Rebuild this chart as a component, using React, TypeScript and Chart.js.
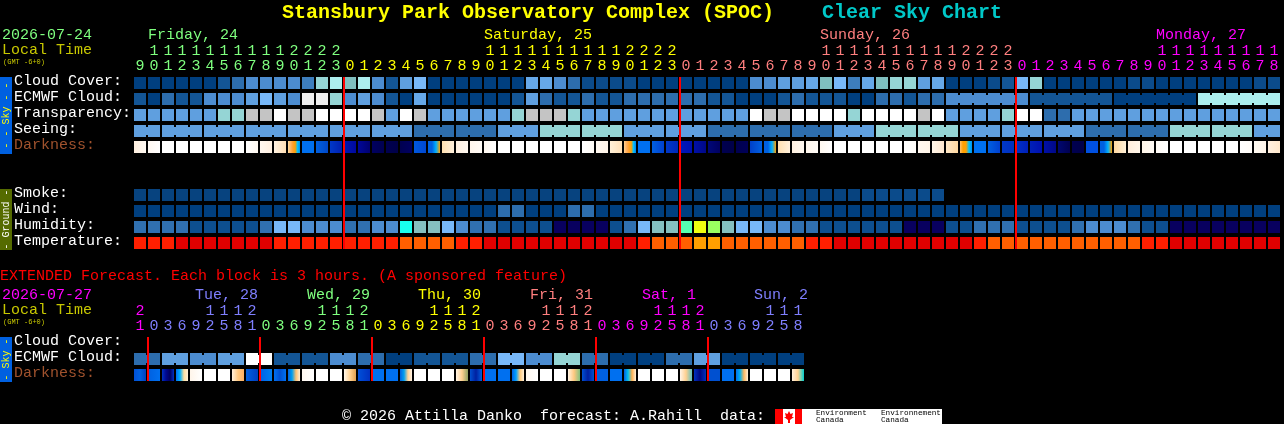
import React, { useEffect, useRef } from "react";
import { Chart, registerables } from "chart.js";

Chart.register(...registerables);

const MONO = '"Liberation Mono", "DejaVu Sans Mono", monospace';

const cloudPalette = ["#003F7F", "#135595", "#2D6DAD", "#4C8CD0", "#5F9FDF", "#78B8F8", "#7FBFBF", "#95D5D5", "#ACEEEE", "#C4C4C4", "#EEEEEE", "#FFFFFF", "#3D7DBD", "#0B4B8B", "#66A8E8", "#07437F"];
const humidityPalette = ["#08005F", "#0D4F8F", "#3070B0", "#4C8CD0", "#78B8F8", "#85BFBF", "#18FFEE", "#55FFB0", "#9AFF60", "#EFFF10"];
const temperaturePalette = ["#E00000", "#FF1F00", "#FF5F00", "#FF9F00"];

const hoursMain = [9, 10, 11, 12, 13, 14, 15, 16, 17, 18, 19, 20, 21, 22, 23, 0, 1, 2, 3, 4, 5, 6, 7, 8, 9, 10, 11, 12, 13, 14, 15, 16, 17, 18, 19, 20, 21, 22, 23, 0, 1, 2, 3, 4, 5, 6, 7, 8, 9, 10, 11, 12, 13, 14, 15, 16, 17, 18, 19, 20, 21, 22, 23, 0, 1, 2, 3, 4, 5, 6, 7, 8, 9, 10, 11, 12, 13, 14, 15, 16, 17, 18];
const hoursExtended = [21, 0, 3, 6, 9, 12, 15, 18, 21, 0, 3, 6, 9, 12, 15, 18, 21, 0, 3, 6, 9, 12, 15, 18, 21, 0, 3, 6, 9, 12, 15, 18, 21, 0, 3, 6, 9, 12, 15, 18, 21, 0, 3, 6, 9, 12, 15, 18];
const midnightsMain = [15, 39, 63];
const midnightsExtended = [1, 9, 17, 25, 33, 41];

const cloudCover = [0,0,0,0,0,0,1,2,3,3, 3,3,12,7,8,6,8,3,1,4, 5,0,0,0,0,0,0,0,14,14, 3,2,13,13,13,13,0,0,0,0, 0,0,0,0,3,3,4,4,14,6, 5,12,14,6,7,7,4,14,0,0, 0,13,1,5,7,0,0,0,0,0, 0,13,13,0,0,0,0,0,0,0, 13,13];
const ecmwfCloud = [1,0,2,1,1,3,3,3,4,5, 4,3,10,10,7,3,4,3,1,0, 14,0,0,0,0,0,0,1,4,2, 1,1,2,1,1,2,2,2,2,2, 2,1,1,0,0,0,1,2,1,1, 1,0,0,2,2,1,2,2,3,3, 3,3,3,3,1,1,1,1,1,1, 0,0,0,0,0,0,8,8,8,8, 8,8];
const transparency = [4,4,4,4,4,4,7,7,9,9, 11,9,9,11,11,11,11,9,4,11, 9,4,4,4,4,4,4,7,9,9, 9,7,4,4,4,4,4,4,4,4, 4,4,4,4,11,9,9,11,11,11, 11,7,11,11,11,11,9,11,4,4, 4,4,7,11,11,2,2,4,4,4, 4,4,4,4,4,4,4,4,4,4, 4,4];
const seeing = [4,4,4,4,4,4,4,4,4,4, 4,4,4,4,4,4,4,4,4,4, 2,2,2,2,2,2,4,4,4,7, 7,7,7,7,7,4,4,4,4,4, 4,2,2,2,2,2,2,2,2,2, 4,4,4,7,7,7,7,7,7,4, 4,4,4,4,4,4,4,4,2,2, 2,2,2,2,7,7,7,7,7,7, 4,4];
const smoke = [15,15,15,15,15,15,15,15,15,15, 15,15,15,15,15,15,15,15,15,15, 15,15,15,15,15,15,15,15,15,15, 15,15,15,15,15,15,15,15,15,15, 15,15,15,15,15,15,15,15,15,15, 15,15,13,13,13,13,13,13];
const wind = [0,0,0,0,0,0,0,0,0,0, 0,0,0,0,0,0,0,0,0,0, 0,0,0,0,0,0,2,2,0,0, 0,2,2,0,0,0,0,0,0,0, 0,0,0,0,0,0,0,0,0,0, 0,0,0,0,0,0,0,0,0,0, 0,0,0,0,0,0,0,0,0,0, 0,0,0,0,0,0,0,0,0,0, 0,0];
const humidity = [2,2,2,2,1,1,1,1,1,2, 4,4,3,3,3,2,2,3,3,6, 5,5,4,3,2,2,1,1,1,1, 0,0,0,0,1,2,4,5,5,7, 9,8,5,4,4,3,3,2,2,1, 1,1,1,1,1,0,0,0,1,1, 2,2,2,1,1,1,1,2,3,3, 3,2,1,1,0,0,0,0,0,0, 0,0];
const temperature = [1,1,1,0,0,0,0,0,0,0, 1,1,1,1,1,1,1,1,1,2, 2,2,2,1,1,0,0,0,0,0, 0,0,0,0,0,0,1,2,2,2, 3,3,2,2,2,2,2,2,1,1, 0,0,0,0,0,0,0,0,0,0, 1,2,2,2,2,2,2,2,2,2, 2,2,1,1,0,0,0,0,0,0, 0,0];
const ecmwfExtended = [2,2,4,4,3,3,4,4,11,11, 1,1,1,1,3,3,2,2,0,0, 1,1,1,1,2,2,5,5,3,3, 7,7,2,2,0,0,0,0,2,2, 4,4,0,0,0,0,0,0];

const seeingRuns = [[0,2],[2,3],[5,3],[8,3],[11,3],[14,3],[17,3],[20,3],[23,3],[26,3],[29,3],[32,3],[35,3],[38,3],[41,3],[44,3],[47,3],[50,3],[53,3],[56,3],[59,3],[62,3],[65,3],[68,3],[71,3],[74,3],[77,3],[80,2]];
const ecmwfRuns = [[58,6],[64,6],[70,6],[76,6]];
const ecmwfExtendedRuns = [[0,2],[2,2],[4,2],[6,2],[8,2],[10,2],[12,2],[14,2],[16,2],[18,2],[20,2],[22,2],[24,2],[26,2],[28,2],[30,2],[32,2],[34,2],[36,2],[38,2],[40,2],[42,2],[44,2],[46,2]];

const darknessMain = [
  "FFF0E0 FFF8F2", "FFF8F2 FFFFFF", "FFFFFF", "FFFFFF", "FFFFFF", "FFFFFF", "FFFFFF", "FFFFFF", "FFFFFF FFF8F0", "FFF8F0 FFF0E0",
  "FFF2E2 FFDFB4", "FFDCA0 FFB868 FFA030 FFA000 00C0FF 0090F0", "0070F0", "0060E0 0048C8", "0038C8 0020B0", "0018B0 0008A0", "000898 000070", "000060 000050", "000050 000048", "000050 000060",
  "0058E0 0048D0", "0060E0 0060E0 00B0FF FFA000", "FFE0B0 FFF0DC", "FFF0E0 FFF8F0", "FFF6EC FFFBF6", "FFF8F0 FFFFFF", "FFFFFF", "FFFFFF", "FFFFFF", "FFFFFF",
  "FFFFFF", "FFFFFF", "FFFFFF FFFBF5", "FFF8F0 FFF4E8", "FFF0D8 FFE0B8", "FFD090 FFB060 FFA030 FFA000 00C0FF 0080F0", "0070F0", "0060E0 0040D0", "0038C8 0028B8", "0018B8 0010B0",
  "0010A8 000888", "000878 000060", "000050 000048", "000050 000058", "0040C8 0060E0", "0060E0 0060E0 00B0FF FFA000", "FFE0B0 FFF0DC", "FFF0E0 FFF8F0", "FFF6EC FFFBF6", "FFF8F0 FFFFFF",
  "FFFFFF", "FFFFFF", "FFFFFF", "FFFFFF", "FFFFFF", "FFFFFF FFFDF8", "FFF8F0 FFF5E8", "FFF5E8 FFE8D0", "FFE8C8 FFD8A0", "FFC070 FFA000 FFA000 00C0FF 0090F0",
  "0070F0", "0060E0 0040D0", "0038C8 0030C0", "0030C8 0020B8", "0020B8 0010B0", "0010A8 000888", "000870 000050", "000050 000048", "0050E0", "0060E0 0060E0 00B0FF FFA000",
  "FFD8A0 FFF0D8", "FFEEDC FFF6EA", "FFF5E8 FFFAF5", "FFFAF5 FFFFFF", "FFFFFF", "FFFFFF", "FFFFFF", "FFFFFF", "FFFFFF", "FFFFFF FFFCF8",
  "FFFAF2 FFF4E8", "FFF0E0 FFE8CC",
];
const darknessExtended = [
  "0050D8 0060E0 0040C0", "0060E0 0070F0", "0030C0 000890 000060 0030C0", "0070F0 00B0FF FFDFA0 FFF0D8", "FFF5EA FFFFFF", "FFFFFF", "FFFFFF", "FFF0DC FFC880 FFB060",
  "0060E0 0040C0", "0060E8 0080F0", "0070F0 0050D0 0070F0", "0060E0 00A0F0 FFC070 FFF0D8", "FFF8F0 FFFFFF", "FFFFFF", "FFFFFF", "FFF8EC FFD090 E0A050",
  "0050D8 0030C0", "0070F0", "0070F0", "0060E0 00A0F0 FFD090 FFF4E8", "FFFFFF", "FFFFFF", "FFFFFF", "FFF4E4 FFD090 90A060",
  "0050D0 0020A0 0060E0", "0070F0", "0070F0", "0060E0 00A0FF FFC878 FFF0D8", "FFF8F0 FFFFFF", "FFFFFF", "FFFFFF", "FFF4E4 FFC880 80C080",
  "0050D0 0020A0 0050D0", "0060E0", "0070F0", "0060E0 00C0F0 FFB050 FFF0D8", "FFFFFF", "FFFFFF", "FFFFFF", "FFF4E8 FFD090 60C0C0",
  "0030C0 000880 0030C0", "0050D0", "0070F0", "0070F0 00B0F0 FFB860 FFF0D8", "FFFFFF", "FFFFFF", "FFFFFF", "FFF0DC FFD090 00D0D0",
];

const rowLabels = ["Cloud Cover:", "ECMWF Cloud:", "Transparency:", "Seeing:", "Darkness:", "Smoke:", "Wind:", "Humidity:", "Temperature:", "Cloud Cover:", "ECMWF Cloud:", "Darkness:"];
const rowValues = [0.5, 1.5, 2.5, 3.5, 4.5, 7.5, 8.5, 9.5, 10.5, 16.75, 17.75, 18.75];
const labelColors = ["#FFFFFF", "#FFFFFF", "#FFFFFF", "#FFFFFF", "#A0522D", "#FFFFFF", "#FFFFFF", "#FFFFFF", "#FFFFFF", "#FFFFFF", "#FFFFFF", "#A0522D"];

const GREEN = "#7FFF7F", YELLOW = "#FFFF00", SALMON = "#FF7F7F", MAGENTA = "#FF00FF", VIOLET = "#7F7FFF";
const dayColorsMain = [GREEN, YELLOW, SALMON, MAGENTA];
const dayColorsExtended = [MAGENTA, VIOLET, GREEN, YELLOW, SALMON, MAGENTA, VIOLET];
const dayLabels: [string, number, string][] = [["Friday, 24", 148, GREEN], ["Saturday, 25", 484, YELLOW], ["Sunday, 26", 820, SALMON], ["Monday, 27", 1156, MAGENTA]];
const extendedDayLabels: [string, number, string][] = [["Tue, 28", 195, VIOLET], ["Wed, 29", 307, GREEN], ["Thu, 30", 418, YELLOW], ["Fri, 31", 530, SALMON], ["Sat, 1", 642, MAGENTA], ["Sun, 2", 754, VIOLET]];

const HALF = 0.375;
const dayIndex = (i: number, mids: number[]) => mids.filter((m) => i >= m).length;

function cells(id: string, row: number, colors: any, values: any[]) {
  return {
    label: id,
    data: values.map((_, i) => ({ x: i, y: [row - HALF, row + HALF] })),
    backgroundColor: colors,
    barThickness: 12,
    grouped: false,
    inflateAmount: 0,
    borderWidth: 0,
    order: 2,
  };
}
function bridges(id: string, row: number, runs: number[][], values: number[]) {
  const data: any[] = [];
  const colors: string[] = [];
  runs.forEach(([start, len]) => {
    for (let i = start; i < start + len - 1; i++) {
      data.push({ x: i + 0.5, y: [row - 0.25, row + 0.25] });
      colors.push(cloudPalette[values[i]]);
    }
  });
  return { label: id, data, backgroundColor: colors, barThickness: 2, grouped: false, inflateAmount: 0, borderWidth: 0, order: 3 };
}
function gradientCells(id: string, row: number, stops: string[]) {
  return cells(id, row, (c: any) => {
    const list = stops[c.dataIndex].split(" ");
    if (list.length === 1) return "#" + list[0];
    const px = c.chart.scales.x.getPixelForValue(c.dataIndex);
    if (!Number.isFinite(px)) return "#" + list[0];
    const g = c.chart.ctx.createLinearGradient(px - 6, 0, px + 6, 0);
    list.forEach((h, k) => g.addColorStop(k / (list.length - 1), "#" + h));
    return g;
  }, stops);
}
function redLines(id: string, mids: number[], top: number, bottom: number) {
  return {
    label: id,
    data: mids.map((m) => ({ x: m - 3 / 7, y: [top, bottom] })),
    backgroundColor: "#FF0000",
    barThickness: 2,
    grouped: false,
    inflateAmount: 0,
    borderWidth: 0,
    order: 0,
  };
}

const textPlugin = {
  id: "chartText",
  beforeDraw(chart: any) {
    const ctx = chart.ctx;
    ctx.save();
    ctx.fillStyle = "#000000";
    ctx.fillRect(0, 0, chart.width, chart.height);
    ctx.textBaseline = "middle";
    const put = (t: string, x: number, y: number, color: string, font: string) => {
      ctx.fillStyle = color;
      ctx.font = font;
      ctx.fillText(t, x, y);
    };
    const F15 = `15px ${MONO}`;
    put("Stansbury Park Observatory Complex (SPOC)", 282, 13, "#FFFF00", `bold 20px ${MONO}`);
    put("Clear Sky Chart", 822, 13, "#00C8C8", `bold 20px ${MONO}`);
    put("2026-07-24", 2, 35, GREEN, F15);
    put("Local Time", 2, 50, "#C8C800", F15);
    put("(GMT -6+0)", 3, 62, "#C8C800", `7px ${MONO}`);
    dayLabels.forEach(([t, x, c]) => put(t, x, 35, c, F15));
    put("EXTENDED Forecast. Each block is 3 hours. (A sponsored feature)", 0, 276, "#FF0000", F15);
    put("2026-07-27", 2, 295, MAGENTA, F15);
    put("Local Time", 2, 310, "#C8C800", F15);
    put("(GMT -6+0)", 3, 322, "#C8C800", `7px ${MONO}`);
    extendedDayLabels.forEach(([t, x, c]) => put(t, x, 295, c, F15));
    put("© 2026 Attilla Danko  forecast: A.Rahill  data:", 342, 416, "#FFFFFF", F15);

    const side = (y0: number, y1: number, bg: string, t: string, c: string) => {
      ctx.fillStyle = bg;
      ctx.fillRect(0, y0, 12, y1 - y0);
      ctx.save();
      ctx.translate(6, (y0 + y1) / 2);
      ctx.rotate(-Math.PI / 2);
      ctx.textAlign = "center";
      put(t, 0, 0, c, `10px ${MONO}`);
      ctx.restore();
    };
    side(77, 154, "#0060E0", "- - Sky - -", "#FFFF00");
    side(189, 250, "#556B00", "- Ground -", "#FFFFFF");
    side(337, 382, "#0060E0", "- Sky -", "#FFFF00");

    ctx.fillStyle = "#FFFFFF";
    ctx.fillRect(775, 409, 167, 15);
    ctx.fillStyle = "#FF0000";
    ctx.fillRect(775, 409, 8, 15);
    ctx.fillRect(795, 409, 7, 15);
    ctx.beginPath();
    [[789, 411], [790.5, 414], [793, 413], [792, 417], [794, 417], [790, 420], [790, 423], [788, 423], [788, 420], [784, 417], [786, 417], [785, 413], [787.5, 414]].forEach(([x, y], i) => (i ? ctx.lineTo(x, y) : ctx.moveTo(x, y)));
    ctx.closePath();
    ctx.fill();
    const tiny = `7.7px ${MONO}`;
    put("Environment", 816, 413, "#000000", tiny);
    put("Canada", 816, 420, "#000000", tiny);
    put("Environnement", 881, 413, "#000000", tiny);
    put("Canada", 881, 420, "#000000", tiny);
    ctx.restore();
  },
};

export default function App() {
  const ref = useRef<HTMLCanvasElement>(null);
  useEffect(() => {
    document.body.style.margin = "0";
    document.body.style.background = "#000";
    const hourLabel = (h: number) => [h >= 10 ? String(Math.floor(h / 10)) : "", String(h % 10)];
    const chart = new Chart(ref.current as HTMLCanvasElement, {
      type: "bar",
      plugins: [textPlugin],
      data: {
        datasets: [
          redLines("Midnight", midnightsMain, 0.125, 10.875),
          redLines("Midnight (extended)", midnightsExtended, 16.375, 19.125),
          cells("Cloud Cover", rowValues[0], cloudCover.map((v) => cloudPalette[v]), cloudCover),
          cells("ECMWF Cloud", rowValues[1], ecmwfCloud.map((v) => cloudPalette[v]), ecmwfCloud),
          bridges("ECMWF links", rowValues[1], ecmwfRuns, ecmwfCloud),
          cells("Transparency", rowValues[2], transparency.map((v) => cloudPalette[v]), transparency),
          cells("Seeing", rowValues[3], seeing.map((v) => cloudPalette[v]), seeing),
          bridges("Seeing links", rowValues[3], seeingRuns, seeing),
          gradientCells("Darkness", rowValues[4], darknessMain),
          cells("Smoke", rowValues[5], smoke.map((v) => cloudPalette[v]), smoke),
          cells("Wind", rowValues[6], wind.map((v) => cloudPalette[v]), wind),
          cells("Humidity", rowValues[7], humidity.map((v) => humidityPalette[v]), humidity),
          cells("Temperature", rowValues[8], temperature.map((v) => temperaturePalette[v]), temperature),
          cells("ECMWF Cloud (extended)", rowValues[10], ecmwfExtended.map((v) => cloudPalette[v]), ecmwfExtended),
          bridges("ECMWF links (extended)", rowValues[10], ecmwfExtendedRuns, ecmwfExtended),
          gradientCells("Darkness (extended)", rowValues[11], darknessExtended),
        ] as any,
      },
      options: {
        animation: false,
        responsive: false,
        devicePixelRatio: 1,
        events: [],
        layout: { padding: { left: 14, right: 3, top: 0, bottom: 41 } },
        plugins: { legend: { display: false }, tooltip: { enabled: false }, title: { display: false } },
        scales: {
          x: {
            type: "linear",
            position: "top",
            offset: false,
            min: -0.5,
            max: 81.5,
            grid: { display: false, drawTicks: false },
            border: { display: false },
            afterFit: (s: any) => { s.height = 75; },
            afterBuildTicks: (s: any) => { s.ticks = hoursMain.map((_, i) => ({ value: i })); },
            ticks: {
              autoSkip: false, maxRotation: 0, minRotation: 0, padding: 1,
              font: { family: MONO, size: 15, lineHeight: 1 },
              color: (c: any) => dayColorsMain[dayIndex(c.index, midnightsMain)],
              callback: (_v: any, i: number) => hourLabel(hoursMain[i]),
            },
          },
          xExt: {
            type: "linear",
            axis: "x",
            offset: false,
            position: { y: 14.3125 },
            min: -0.5,
            max: 81.5,
            grid: { display: false, drawTicks: false },
            border: { display: false },
            afterBuildTicks: (s: any) => { s.ticks = hoursExtended.map((_, i) => ({ value: i })); },
            ticks: {
              autoSkip: false, maxRotation: 0, minRotation: 0, padding: 0,
              font: { family: MONO, size: 15, lineHeight: 1 },
              color: (c: any) => dayColorsExtended[dayIndex(c.index, midnightsExtended)],
              callback: (_v: any, i: number) => hourLabel(hoursExtended[i]),
            },
          },
          y: {
            type: "linear",
            reverse: true,
            min: 0,
            max: 19.25,
            grid: { display: false, drawTicks: false },
            border: { display: false },
            afterFit: (s: any) => { s.width = 119; },
            afterBuildTicks: (s: any) => { s.ticks = rowValues.map((value) => ({ value })); },
            ticks: {
              autoSkip: false, crossAlign: "far", padding: 0, labelOffset: -2,
              font: { family: MONO, size: 15, lineHeight: 1 },
              color: (c: any) => labelColors[c.index],
              callback: (_v: any, i: number) => rowLabels[i],
            },
          },
        } as any,
      },
    });
    return () => chart.destroy();
  }, []);
  return (
    <div style={{ position: "absolute", left: 0, top: 0, width: 1284, height: 424, background: "#000" }}>
      <canvas ref={ref} width={1284} height={424} style={{ display: "block" }} />
    </div>
  );
}
